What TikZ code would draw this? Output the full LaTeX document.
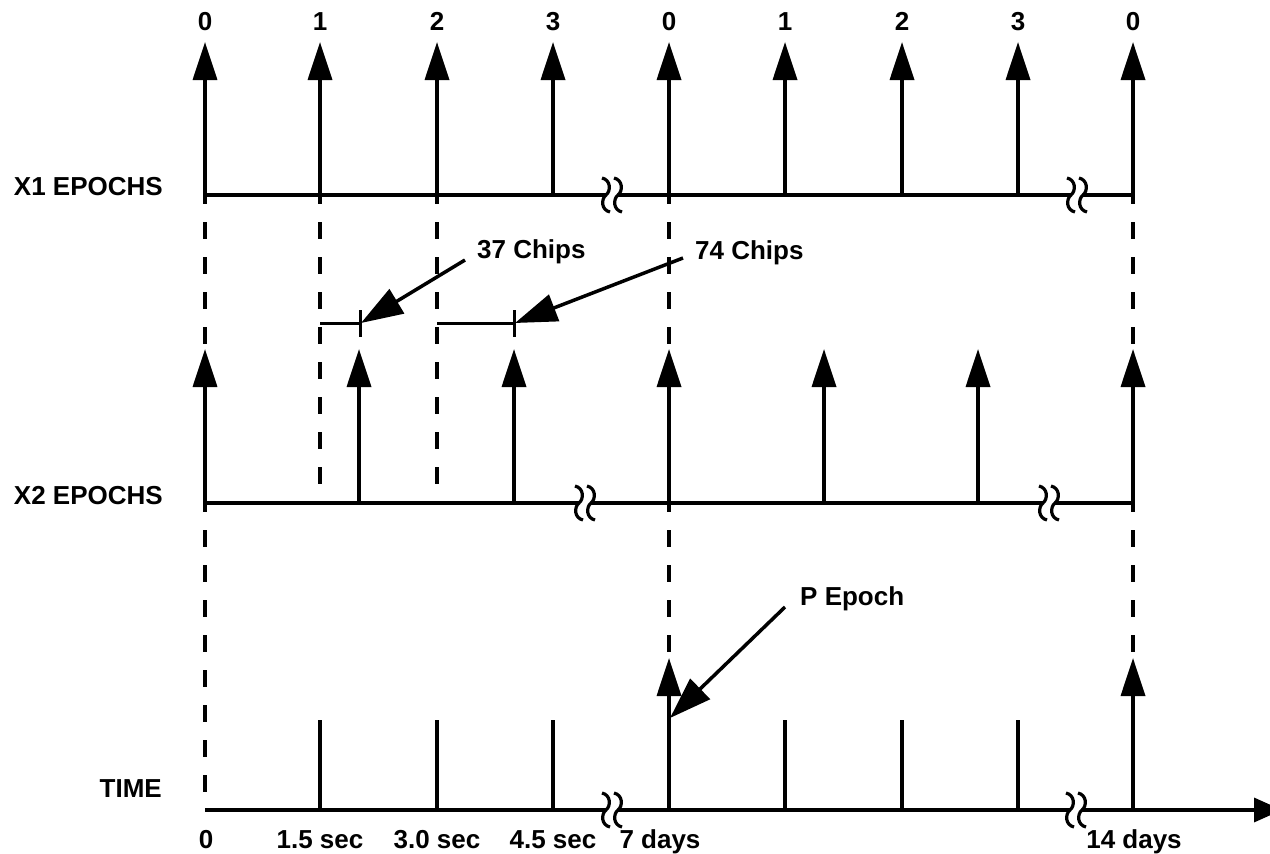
\documentclass[tikz,border=0pt]{standalone}
\usepackage{fontspec}
\setmainfont{Liberation Sans}
\usetikzlibrary{arrows.meta}
\begin{document}
\begin{tikzpicture}[x=1pt,y=-1pt,
  lbl/.style={font=\fontsize{26}{30}\selectfont\bfseries, inner sep=0pt},
  ln/.style={line width=3.5pt},
  epoch/.style={line width=3.5pt, -{Triangle[length=38pt,width=24pt]}},
  dsh/.style={line width=3.5pt, dash pattern=on 17pt off 18pt},
  callout/.style={line width=3.5pt, -{Triangle[length=42pt,width=28pt]}},
  axisbreak/.pic={
    \fill[white] (-6,-5) rectangle (6,5);
    \draw[line width=3.2pt] (-10,-17) .. controls (-1,-15) and (-1,-4) .. (-6,0) .. controls (-11,4) and (-11,15) .. (-2,17);
    \draw[line width=3.2pt] (2,-17) .. controls (11,-15) and (11,-4) .. (6,0) .. controls (1,4) and (1,15) .. (10,17);
  }]
\useasboundingbox (0,0) rectangle (1270,854);
\clip (0,0) rectangle (1270,854);

% ---------- X1 row ----------
\coordinate (x1l) at (205,195);
\coordinate (x1r) at (1133,195);
\draw[ln] (x1l) -- (x1r);
\foreach \x/\n [count=\i] in {205/0,320/1,437/2,553/3,669/0,785/1,902/2,1018/3,1133/0} {
  \coordinate (a1b\i) at (\x,195);
  \coordinate (a1t\i) at (\x,42);
  \draw[epoch] (a1b\i) -- (a1t\i);
  \node[lbl, anchor=base] (n1\i) at (\x,30) {\n};
}
\pic at (612,195) {axisbreak};
\pic at (1077,195) {axisbreak};
\node[lbl, anchor=base east] (x1lab) at (163,195) {X1 EPOCHS};

% ---------- X2 row ----------
\coordinate (x2l) at (205,503);
\coordinate (x2r) at (1133,503);
\draw[ln] (x2l) -- (x2r);
\foreach \x [count=\i] in {205,359,514,669,824,978,1133} {
  \coordinate (a2b\i) at (\x,503);
  \coordinate (a2t\i) at (\x,349);
  \draw[epoch] (a2b\i) -- (a2t\i);
}
\pic at (585,503) {axisbreak};
\pic at (1049,503) {axisbreak};
\node[lbl, anchor=base east] (x2lab) at (163,504) {X2 EPOCHS};

% ---------- TIME row ----------
\coordinate (tl) at (205,810);
\coordinate (tr) at (1282,810);
\draw[ln, -{Triangle[length=28pt,width=24pt]}] (tl) -- (tr);
\foreach \x [count=\i] in {320,437,553,785,902,1018} {
  \coordinate (tkb\i) at (\x,810);
  \coordinate (tkt\i) at (\x,720);
  \draw[ln] (tkb\i) -- (tkt\i);
}
\coordinate (p1b) at (669,810);
\coordinate (p1t) at (669,658);
\coordinate (p2b) at (1133,810);
\coordinate (p2t) at (1133,658);
\draw[epoch] (p1b) -- (p1t);
\draw[epoch] (p2b) -- (p2t);
\pic at (612,810) {axisbreak};
\pic at (1076,810) {axisbreak};
\node[lbl, anchor=base east] (tlab) at (162,797) {TIME};
\foreach \x/\t [count=\i] in {206/0,320/1.5 sec,437/3.0 sec,553/4.5 sec,660/7 days,1134/14 days} {
  \node[lbl, anchor=base] (tn\i) at (\x,848) {\t};
}

% ---------- dashed guides ----------
\coordinate (d0a) at (205,348);
\coordinate (d0b) at (205,797);
\coordinate (d1a) at (320,490);
\coordinate (d2a) at (437,490);
\coordinate (d3a) at (669,350);
\coordinate (d3b) at (669,658);
\coordinate (d4a) at (1133,350);
\coordinate (d4b) at (1133,658);
\draw[dsh, dash phase=8pt] (a1b1) -- (d0a);
\draw[dsh, dash phase=8pt] (x2l) -- (d0b);
\draw[dsh, dash phase=8pt] (a1b2) -- (d1a);
\draw[dsh, dash phase=8pt] (a1b3) -- (d2a);
\draw[dsh, dash phase=8pt] (a1b5) -- (d3a);
\draw[dsh, dash phase=8pt] (a2b4) -- (d3b);
\draw[dsh, dash phase=8pt] (a1b9) -- (d4a);
\draw[dsh, dash phase=8pt] (a2b7) -- (d4b);

% ---------- chip offsets ----------
\coordinate (c37l) at (320,323);
\coordinate (c37r) at (360,323);
\coordinate (c37t) at (360,310);
\coordinate (c37u) at (360,337);
\draw[line width=3pt] (c37l) -- (c37r);
\draw[line width=3pt] (c37t) -- (c37u);
\coordinate (c74l) at (437,323);
\coordinate (c74r) at (514,323);
\coordinate (c74t) at (514,310);
\coordinate (c74u) at (514,337);
\draw[line width=3pt] (c74l) -- (c74r);
\draw[line width=3pt] (c74t) -- (c74u);

\node[lbl, anchor=base west] (l37) at (477,258) {37 Chips};
\node[lbl, anchor=base west] (l74) at (695,259) {74 Chips};
\node[lbl, anchor=base west] (lp) at (800,605) {P Epoch};
\coordinate (s37) at (465,260);
\coordinate (s74) at (683,258);
\coordinate (sp) at (785,607);
\coordinate (e37) at (361,323);
\coordinate (e74) at (515,323);
\coordinate (ep) at (670,718);
\draw[callout] (s37) -- (e37);
\draw[callout] (s74) -- (e74);
\draw[callout] (sp) -- (ep);
\end{tikzpicture}
\end{document}
